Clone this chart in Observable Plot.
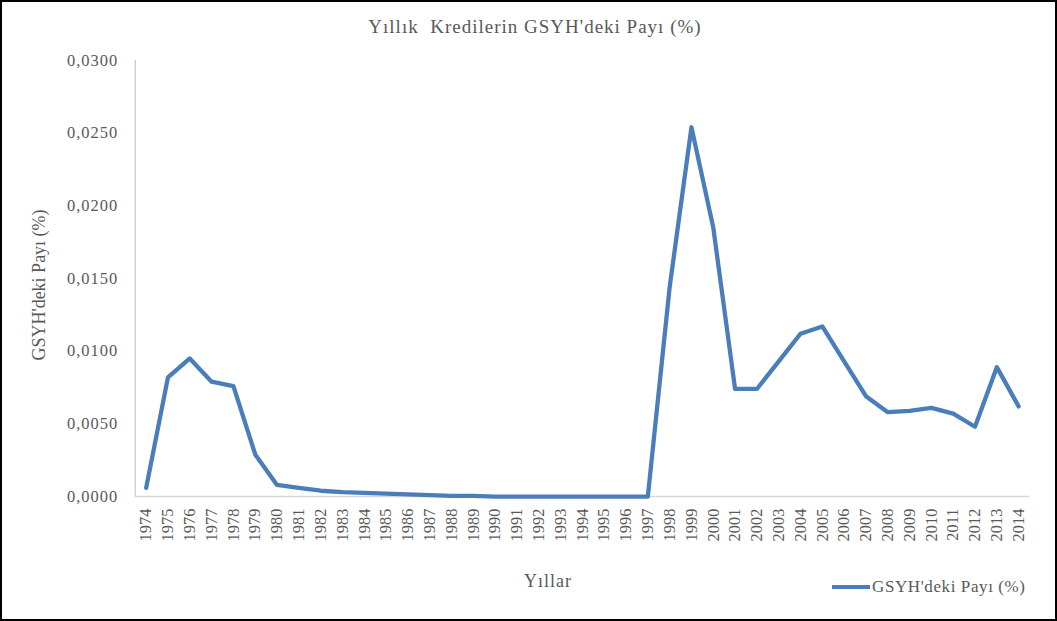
<!DOCTYPE html>
<html>
<head>
<meta charset="utf-8">
<script src="https://cdn.jsdelivr.net/npm/d3@7"></script>
<script src="https://cdn.jsdelivr.net/npm/@observablehq/plot@0.6"></script>
<style>
  html, body { margin: 0; padding: 0; background: #fff; }
  #wrap { position: relative; width: 1057px; height: 621px; box-sizing: border-box; border: 2px solid #000; overflow: hidden; font-family: "Liberation Serif", serif; color: #595959; }
  #chart { position: absolute; left: -2px; top: -2px; }
  .t { position: absolute; white-space: nowrap; }
  #title { left: 0; width: 1066px; top: 14px; text-align: center; font-size: 19px; letter-spacing: 1px; }
  #ylab { left: 37px; top: 283px; transform: translate(-50%, -50%) rotate(-90deg); font-size: 18px; }
  #xlab { left: 546px; top: 579px; transform: translate(-50%, -50%); font-size: 18px; letter-spacing: 1px; }
  #legend { left: 830px; top: 575px; font-size: 17px; letter-spacing: 0.6px; display: flex; align-items: center; }
  #legend .sw { width: 38px; height: 4px; background: #4a7ebb; margin-right: 2px; }
  #chart svg g[aria-label="y-axis tick label"] text { letter-spacing: 1px; }
</style>
</head>
<body>
<div id="wrap">
  <div id="chart"></div>
  <div class="t" id="title">Yıllık&nbsp; Kredilerin GSYH'deki Payı (%)</div>
  <div class="t" id="ylab">GSYH'deki Payı (%)</div>
  <div class="t" id="xlab">Yıllar</div>
  <div class="t" id="legend"><span class="sw"></span><span>GSYH'deki Payı (%)</span></div>
</div>
<script>
const years = d3.range(1974, 2015);
const values = [
  0.0006, 0.0082, 0.0095, 0.0079, 0.0076, 0.0029, 0.0008, 0.0006, 0.0004, 0.0003,
  0.00025, 0.0002, 0.00015, 0.0001, 0.00005, 0.00004, 0.0000, 0.0000, 0.0000, 0.0000,
  0.0000, 0.0000, 0.0000, 0.0000, 0.0144, 0.0254, 0.0185, 0.0074, 0.0074, 0.0093,
  0.0112, 0.0117, 0.0093, 0.0069, 0.0058, 0.0059, 0.0061, 0.0057, 0.0048, 0.0089,
  0.0062
];
const yTicks = [0, 0.005, 0.01, 0.015, 0.02, 0.025, 0.03];
const data = years.map((y, i) => ({year: y, value: values[i]}));

const chart = Plot.plot({
  width: 1057,
  height: 558,
  marginLeft: 135,
  marginRight: 26,
  marginTop: 60,
  marginBottom: 61,
  style: {fontFamily: "Liberation Serif, serif", fontSize: "16.5px", color: "#595959", background: "transparent"},
  x: {type: "point", domain: years, padding: 0.5},
  y: {domain: [0, 0.03]},
  marks: [
    Plot.frame({anchor: "left", stroke: "#bfbfbf", strokeOpacity: 1}),
    Plot.ruleY([0], {stroke: "#d9d9d9", strokeWidth: 1.5}),
    Plot.axisY({ticks: yTicks, tickSize: 0, tickPadding: 17, label: null, tickFormat: d => d.toFixed(4).replace(".", ","), fill: "#595959"}),
    Plot.axisX({tickSize: 0, tickPadding: 12, tickRotate: -90, label: null, tickFormat: d => String(d), fill: "#595959"}),
    Plot.line(data, {x: "year", y: "value", stroke: "#4a7ebb", strokeWidth: 4.3, strokeLinejoin: "round", strokeLinecap: "round"})
  ]
});
document.getElementById("chart").appendChild(chart);
</script>
</body>
</html>
